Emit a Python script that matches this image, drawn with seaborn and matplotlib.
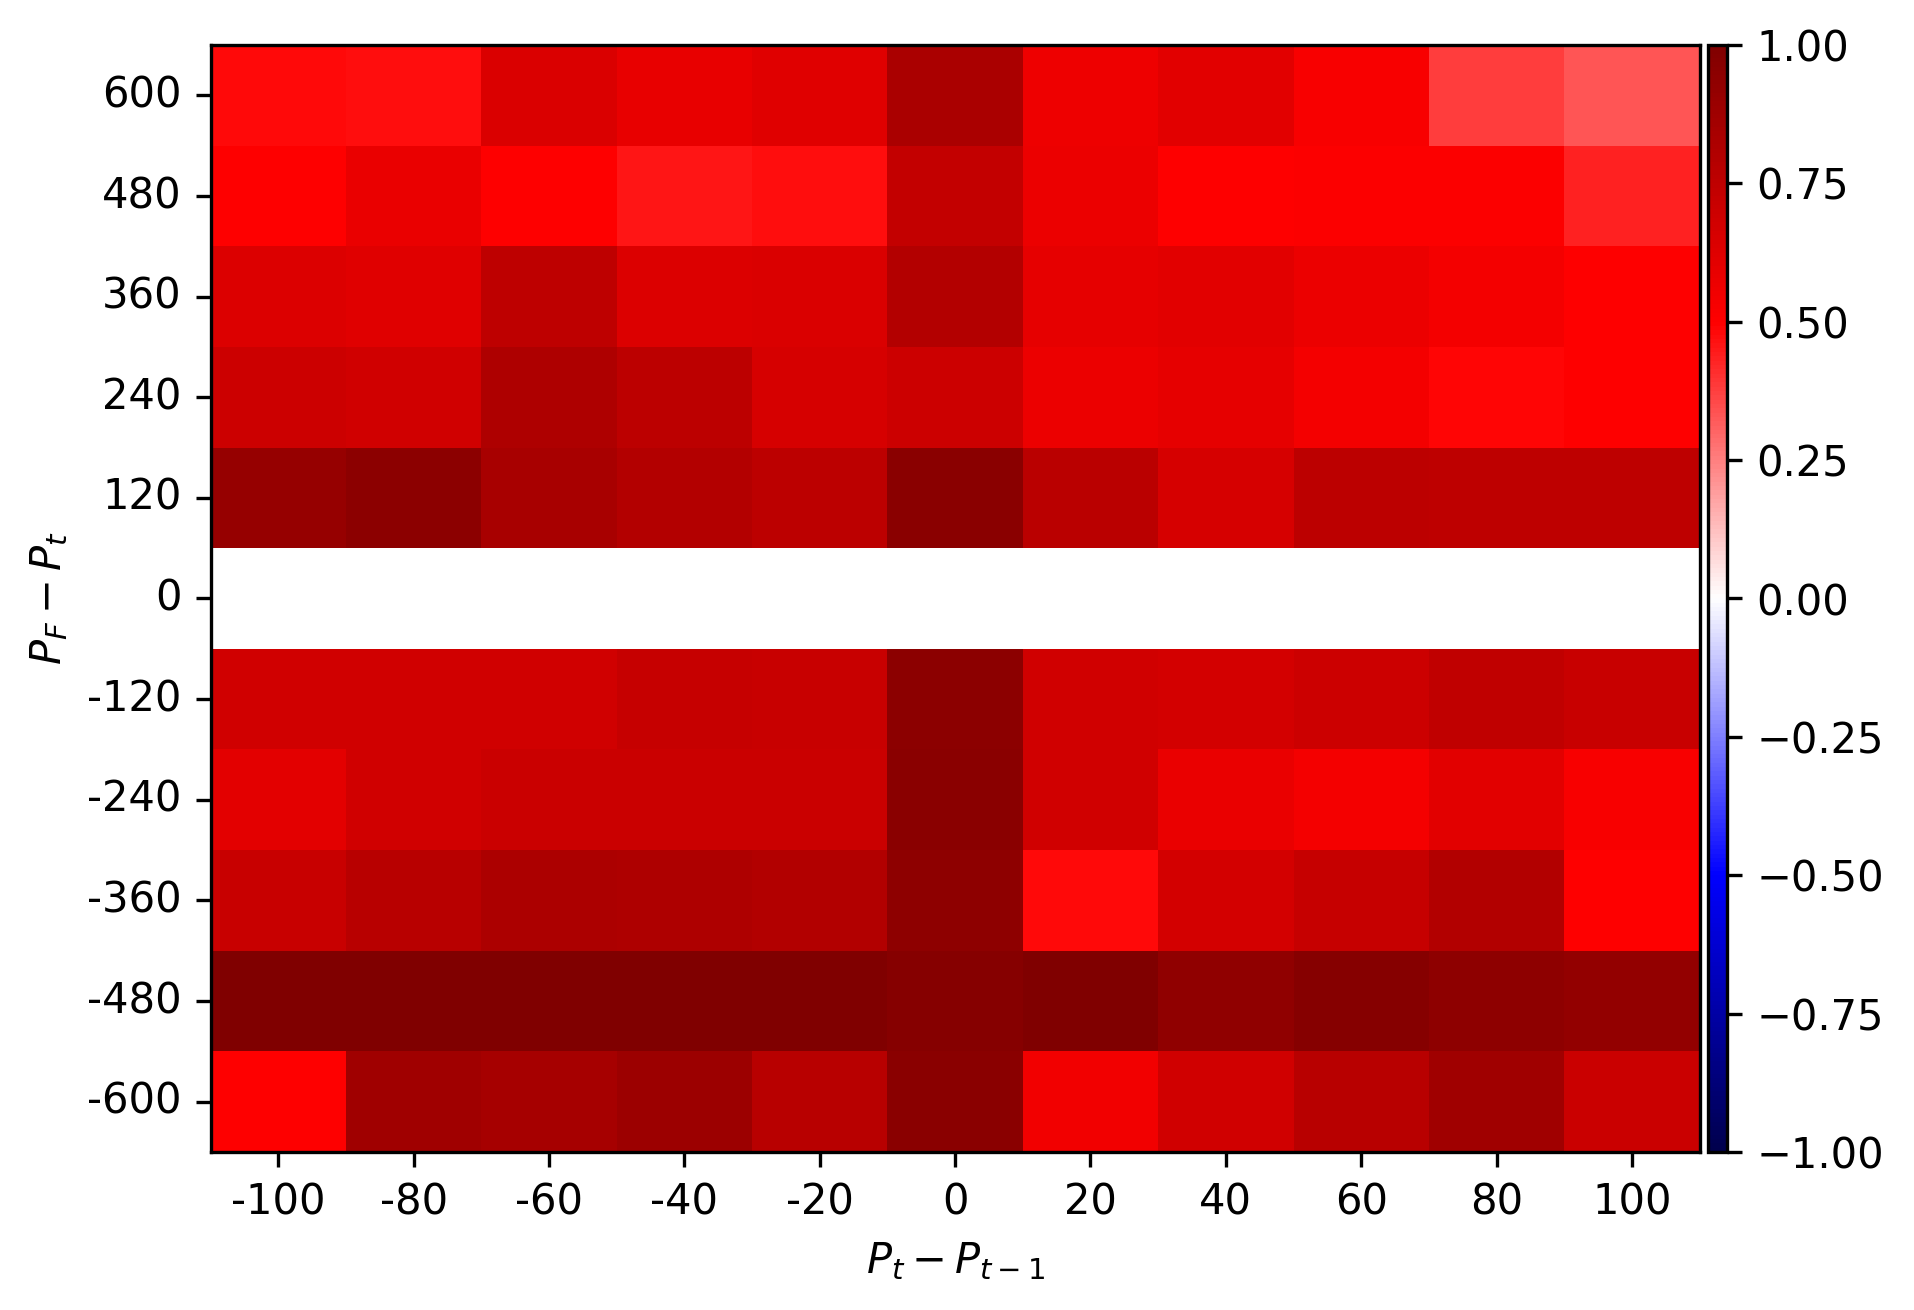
import numpy as np
import pandas as pd
import matplotlib
matplotlib.use("Agg")
import matplotlib.pyplot as plt
import seaborn as sns

# Axis categories
dp_prev = [-100, -80, -60, -40, -20, 0, 20, 40, 60, 80, 100]   # P_t - P_{t-1}
dp_fut = [600, 480, 360, 240, 120, 0, -120, -240, -360, -480, -600]  # P_F - P_t

# correlation values, one list per row (top to bottom)
row_600 = [0.48, 0.47, 0.645, 0.59, 0.62, 0.83, 0.567, 0.61, 0.53, 0.375, 0.33]
row_480 = [0.50, 0.58, 0.50, 0.46, 0.475, 0.73, 0.575, 0.50, 0.51, 0.51, 0.43]
row_360 = [0.64, 0.62, 0.755, 0.64, 0.645, 0.79, 0.60, 0.61, 0.575, 0.545, 0.505]
row_240 = [0.70, 0.68, 0.82, 0.76, 0.66, 0.70, 0.575, 0.60, 0.545, 0.49, 0.505]
row_120 = [0.91, 0.95, 0.84, 0.79, 0.76, 0.96, 0.77, 0.66, 0.76, 0.75, 0.75]
row_0 = [np.nan] * 11  # undefined when P_F == P_t, shows as blank
row_m120 = [0.68, 0.68, 0.68, 0.72, 0.715, 0.95, 0.685, 0.67, 0.70, 0.745, 0.715]
row_m240 = [0.605, 0.685, 0.71, 0.71, 0.71, 0.96, 0.685, 0.58, 0.545, 0.61, 0.53]
row_m360 = [0.715, 0.78, 0.825, 0.82, 0.80, 0.94, 0.48, 0.67, 0.72, 0.80, 0.50]
row_m480 = [1.0, 1.0, 1.0, 1.0, 1.0, 0.97, 1.0, 0.93, 0.97, 0.94, 0.92]
row_m600 = [0.50, 0.87, 0.85, 0.89, 0.78, 0.96, 0.55, 0.685, 0.78, 0.87, 0.71]

rows = [row_600, row_480, row_360, row_240, row_120, row_0,
        row_m120, row_m240, row_m360, row_m480, row_m600]
df = pd.DataFrame(rows, index=[str(v) for v in dp_fut],
                  columns=[str(v) for v in dp_prev])

cbar_ticks = [-1.0, -0.75, -0.5, -0.25, 0.0, 0.25, 0.5, 0.75, 1.0]

fig = plt.figure(figsize=(6.38, 4.367), dpi=300)
ax = fig.add_axes([0.110, 0.1206, 0.778, 0.845])
cax = fig.add_axes([0.8925, 0.1206, 0.0100, 0.845])

sns.heatmap(df, cmap="seismic", vmin=-1, vmax=1, ax=ax, cbar_ax=cax,
            cbar_kws={"ticks": cbar_ticks})

ax.set_xlabel(r"$P_t - P_{t-1}$")
ax.set_ylabel(r"$P_F - P_t$")
ax.tick_params(axis="y", labelrotation=0)
ax.tick_params(axis="x", labelrotation=0)

# frame around heatmap and colorbar
for sp in ax.spines.values():
    sp.set_visible(True)
    sp.set_color("black")
    sp.set_linewidth(0.8)
cb = ax.collections[0].colorbar
cb.outline.set_visible(True)
cb.outline.set_linewidth(0.8)
cb.outline.set_edgecolor("black")

fig.savefig("out.png", dpi=300)
